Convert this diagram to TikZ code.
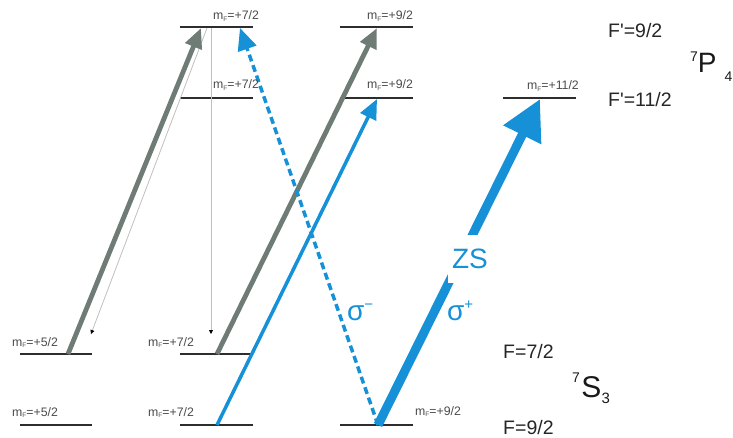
\documentclass[tikz,border=0pt]{standalone}
\usepackage{fontspec}
\setmainfont{Liberation Sans}
\usetikzlibrary{arrows.meta}
\definecolor{lvl}{RGB}{45,45,45}
\definecolor{garr}{RGB}{110,124,117}
\definecolor{barr}{RGB}{22,145,215}
\definecolor{lbl}{RGB}{75,75,75}
\newcommand{\mflab}[1]{m\raisebox{-1.5pt}{\fontsize{6.5}{6.5}\selectfont F}=+#1}
\begin{document}
\begin{tikzpicture}[x=1pt,y=-1pt,
  level/.style={draw=lvl, line width=1.8pt},
  mf/.style={font=\fontsize{12.3}{13}\selectfont, text=lbl, inner sep=0pt, anchor=base west},
  flab/.style={font=\fontsize{19.5}{20}\selectfont, text=black!85, inner sep=0pt, anchor=base west},
  gthick/.style={draw=garr, line width=4.8pt, -{Triangle[length=20pt,width=17pt]}},
  bthin/.style={draw=barr, line width=3.5pt, -{Triangle[length=20pt,width=17pt]}},
  bdash/.style={draw=barr, line width=3.5pt, dash pattern=on 7pt off 4pt, -{Triangle[length=22pt,width=19pt]}},
  bthick/.style={draw=barr, line width=9pt, -{Triangle[length=40pt,width=40pt]}},
  decay/.style={draw=black!25, line width=0.8pt, -{Triangle[length=4pt,width=4pt,color=black]}},
  pol/.style={font=\fontsize{28}{28}\selectfont, text=barr, inner sep=0pt, anchor=base west}
]
\useasboundingbox (0,0) rectangle (733,438);

% level end points
\coordinate (c1u1) at (20,354);  \coordinate (c1u2) at (92,354);
\coordinate (c1d1) at (20,425);  \coordinate (c1d2) at (92,425);
\coordinate (c2t1) at (180,27);  \coordinate (c2t2) at (253,27);
\coordinate (c2m1) at (180,98);  \coordinate (c2m2) at (253,98);
\coordinate (c2u1) at (180,354); \coordinate (c2u2) at (253,354);
\coordinate (c2d1) at (180,425); \coordinate (c2d2) at (253,425);
\coordinate (c3t1) at (340,27);  \coordinate (c3t2) at (413,27);
\coordinate (c3m1) at (340,98);  \coordinate (c3m2) at (413,98);
\coordinate (c3d1) at (340,425); \coordinate (c3d2) at (413,425);
\coordinate (c4m1) at (503,98);  \coordinate (c4m2) at (576,98);

\draw[level] (c1u1) -- (c1u2);
\draw[level] (c1d1) -- (c1d2);
\draw[level] (c2t1) -- (c2t2);
\draw[level] (c2m1) -- (c2m2);
\draw[level] (c2u1) -- (c2u2);
\draw[level] (c2d1) -- (c2d2);
\draw[level] (c3t1) -- (c3t2);
\draw[level] (c3m1) -- (c3m2);
\draw[level] (c3d1) -- (c3d2);
\draw[level] (c4m1) -- (c4m2);

% arrow end points
\coordinate (g1s) at (68,354);   \coordinate (g1e) at (201,28);
\coordinate (g2s) at (217,354);  \coordinate (g2e) at (377,28);
\coordinate (b1s) at (217,425);  \coordinate (b1e) at (377,99);
\coordinate (bds) at (378,425);  \coordinate (bde) at (240,28);
\coordinate (bzs) at (378,425);  \coordinate (bze) at (540,99);
\coordinate (d1s) at (207,28);   \coordinate (d1e) at (91,334);
\coordinate (d2s) at (211,28);   \coordinate (d2e) at (211,334);

\draw[decay] (d1s) -- (d1e);
\draw[decay] (d2s) -- (d2e);
\draw[gthick] (g1s) -- (g1e);
\draw[gthick] (g2s) -- (g2e);
\draw[bthin] (b1s) -- (b1e);
\draw[bdash] (bds) -- (bde);
\draw[bthick] (bzs) -- (bze);

\node[fill=white, minimum width=44pt, minimum height=48pt, inner sep=0pt,
      font=\fontsize{28}{28}\selectfont, text=barr] (zs) at (470,259) {ZS};
\node[pol] (sm) at (347,320) {σ\raisebox{11pt}{\fontsize{15}{15}\selectfont −}};
\node[pol] (sp) at (447,320) {σ\raisebox{11pt}{\fontsize{15}{15}\selectfont +}};

% mF labels
\node[mf] (m1) at (12,346) {\mflab{5/2}};
\node[mf] (m2) at (12,416) {\mflab{5/2}};
\node[mf] (m3) at (148,346) {\mflab{7/2}};
\node[mf] (m4) at (148,416) {\mflab{7/2}};
\node[mf] (m5) at (213,20) {\mflab{7/2}};
\node[mf] (m6) at (213,89) {\mflab{7/2}};
\node[mf] (m7) at (367,20) {\mflab{9/2}};
\node[mf] (m8) at (367,89) {\mflab{9/2}};
\node[mf] (m9) at (415,415) {\mflab{9/2}};
\node[mf] (m10) at (527,90) {\mflab{11/2}};

% F labels
\node[flab] (f1) at (608,38) {F\textquotesingle=9/2};
\node[flab] (f2) at (608,107) {F\textquotesingle=11/2};
\node[flab] (f3) at (503,358) {F=7/2};
\node[flab] (f4) at (503,434) {F=9/2};

% term symbols
\node[inner sep=0pt, anchor=base west, text=black!90] (tp) at (690,73)
  {\raisebox{11pt}{\fontsize{14}{14}\selectfont 7}{\fontsize{28}{28}\selectfont P}\kern8pt\raisebox{-9pt}{\fontsize{14}{14}\selectfont 4}};
\node[inner sep=0pt, anchor=base west, text=black!90] (ts) at (572,397)
  {\raisebox{15pt}{\fontsize{14}{14}\selectfont 7}\kern1.5pt{\fontsize{30}{30}\selectfont S}\raisebox{-6pt}{\fontsize{15}{15}\selectfont 3}};
\end{tikzpicture}
\end{document}
